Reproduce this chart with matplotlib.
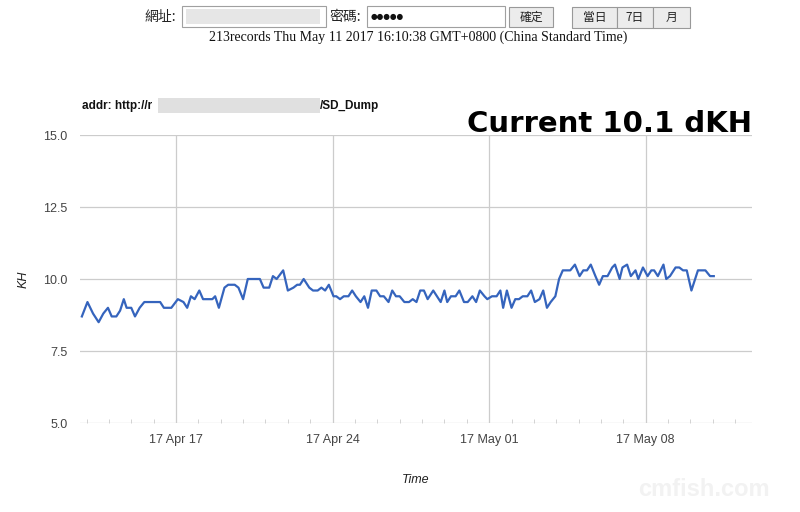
import numpy as np
import pandas as pd
import matplotlib
matplotlib.use("Agg")
import matplotlib.pyplot as plt
import matplotlib.dates as mdates
from matplotlib.patches import Rectangle

# hours since 2017-04-12 00:00 and KH reading
hours = [19, 25, 31, 37, 42, 47, 51, 56, 60, 64, 67, 72, 76, 81, 86, 103, 107, 115,
         122, 128, 132, 136, 140, 145, 149, 159, 162, 166, 172, 176, 183, 187, 192,
         197, 210, 214, 220, 224, 228, 235, 240, 246, 250, 253, 257, 263, 267, 272,
         276, 280, 284, 289, 292, 296, 300, 305, 309, 313, 318, 322, 326, 330, 335,
         339, 343, 348, 352, 356, 360, 365, 370, 374, 378, 382, 386, 390, 396, 400,
         404, 408, 411, 415, 420, 424, 429, 433, 438, 442, 446, 451, 454, 459, 464,
         468, 471, 475, 480, 484, 488, 492, 497, 501, 505, 510, 514, 518, 522, 527,
         531, 535, 543, 548, 553, 557, 561, 565, 570, 574, 578, 583, 588, 591, 596,
         599, 604, 608, 613, 616, 621, 626, 630, 633, 637, 643, 646, 650, 656, 660,
         664, 668, 673, 680, 688, 693, 697]
kh = [8.7, 9.2, 8.8, 8.5, 8.8, 9.0, 8.7, 8.7, 8.9, 9.3, 9.0, 9.0, 8.7, 9.0, 9.2, 9.2, 9.0, 9.0,
      9.3, 9.2, 9.0, 9.4, 9.3, 9.6, 9.3, 9.3, 9.4, 9.0, 9.7, 9.8, 9.8, 9.7, 9.3,
      10.0, 10.0, 9.7, 9.7, 10.1, 10.0, 10.3, 9.6, 9.7, 9.8, 9.8, 10.0, 9.7, 9.6, 9.6,
      9.7, 9.6, 9.8, 9.4, 9.4, 9.3, 9.4, 9.4, 9.6, 9.4, 9.2, 9.4, 9.0, 9.6, 9.6,
      9.4, 9.4, 9.2, 9.6, 9.4, 9.4, 9.2, 9.2, 9.3, 9.2, 9.6, 9.6, 9.3, 9.6, 9.4,
      9.2, 9.6, 9.2, 9.4, 9.4, 9.6, 9.2, 9.2, 9.4, 9.2, 9.6, 9.4, 9.3, 9.4, 9.4,
      9.6, 9.0, 9.6, 9.0, 9.3, 9.3, 9.4, 9.4, 9.6, 9.2, 9.3, 9.6, 9.0, 9.2, 9.4,
      10.0, 10.3, 10.3, 10.5, 10.1, 10.3, 10.3, 10.5, 10.1, 9.8, 10.1, 10.1, 10.4, 10.5, 10.0,
      10.4, 10.5, 10.1, 10.3, 10.0, 10.4, 10.1, 10.3, 10.3, 10.1, 10.5, 10.0, 10.1, 10.4, 10.4,
      10.3, 10.3, 9.6, 10.3, 10.3, 10.1, 10.1]
yticks = [5.0, 7.5, 10.0, 12.5, 15.0]
xtick_days = ["2017-04-17", "2017-04-24", "2017-05-01", "2017-05-08"]

start = pd.Timestamp("2017-04-12")
times = start + pd.to_timedelta(hours, unit="h")

plt.rcParams['font.family'] = ['Liberation Sans', 'Noto Sans CJK TC', 'DejaVu Sans']

fig = plt.figure(figsize=(8, 5.12), dpi=100)
fig.patch.set_facecolor("white")

# page overlay in pixel coords
ov = fig.add_axes([0, 0, 1, 1])
ov.set_xlim(0, 800)
ov.set_ylim(512, 0)
ov.axis("off")

def box(x0, y0, x1, y1, fc="white", ec="#a0a0a0", lw=0.8):
    ov.add_patch(Rectangle((x0, y0), x1 - x0, y1 - y0, facecolor=fc, edgecolor=ec, lw=lw))

cjk = ['Noto Sans CJK TC', 'DejaVu Sans']
ov.text(144, 17, "網址:", fontsize=10, family=cjk, va="center", color="#222")
box(182, 6, 326, 27)
ov.add_patch(Rectangle((186, 9), 134, 15, facecolor="#dcdcdc", edgecolor="none", alpha=0.7))
ov.text(329, 17, "密碼:", fontsize=10, family=cjk, va="center", color="#222")
box(367, 6, 505, 27)
ov.text(371, 17, "●●●●●", fontsize=5.5, family=['DejaVu Sans'], va="center", color="#111")
box(509, 7, 553, 27, fc="#ececec", ec="#999")
ov.text(531, 17, "確定", fontsize=8.5, family=cjk, ha="center", va="center", color="#222")
for x0, x1, lab in [(572, 617, "當日"), (617, 653, "7日"), (653, 690, "月")]:
    box(x0, 7, x1, 28, fc="#ececec", ec="#999")
    ov.text((x0 + x1) / 2, 17.5, lab, fontsize=8.5, family=cjk, ha="center", va="center", color="#222")
ov.text(418, 37, "213records Thu May 11 2017 16:10:38 GMT+0800 (China Standard Time)",
        fontsize=10, family=['Liberation Serif'], ha="center", va="center", color="#111")

ov.text(82, 106, "addr: http://r", fontsize=8.5, fontweight="bold", va="center", color="#111")
ov.add_patch(Rectangle((158, 98), 162, 15, facecolor="#d4d4d4", edgecolor="none", alpha=0.7))
ov.text(320, 106, "/SD_Dump", fontsize=8.5, fontweight="bold", va="center", color="#111")
ov.text(752, 124, "Current 10.1 dKH", fontsize=21, fontweight="bold", family=['DejaVu Sans'],
        ha="right", va="center", color="#000")
ov.text(770, 490, "cmfish.com", fontsize=17, fontweight="bold", ha="right", va="center",
        color="#f2f2f2")

# chart
ax = fig.add_axes([0.1, 1 - 423 / 512, 0.84, 288 / 512])
ax.plot(times, kh, color="#3564bd", lw=1.6)
ax.set_ylim(5, 15)
ax.set_yticks(yticks)
ax.set_yticklabels(["%.1f" % v for v in yticks])
ax.set_xlim(start + pd.Timedelta(hours=17), start + pd.Timedelta(hours=738))
ax.set_xticks(pd.to_datetime(xtick_days))
ax.xaxis.set_major_formatter(mdates.DateFormatter("%y %b %d"))
ax.xaxis.set_minor_locator(mdates.DayLocator())
ax.grid(True, color="#cccccc", lw=0.9)
for s in ax.spines.values():
    s.set_visible(False)
ax.tick_params(which="major", length=0, colors="#444", labelsize=9)
ax.tick_params(axis="y", which="major", pad=9)
ax.tick_params(axis="x", which="major", pad=8)
ax.tick_params(axis="x", which="minor", direction="in", length=3, color="#cccccc")
ax.set_ylabel("KH", fontstyle="italic", fontsize=9, color="#222", labelpad=10)
ax.set_xlabel("Time", fontstyle="italic", fontsize=9, color="#222", labelpad=20)

fig.savefig("out.png", dpi=100)
